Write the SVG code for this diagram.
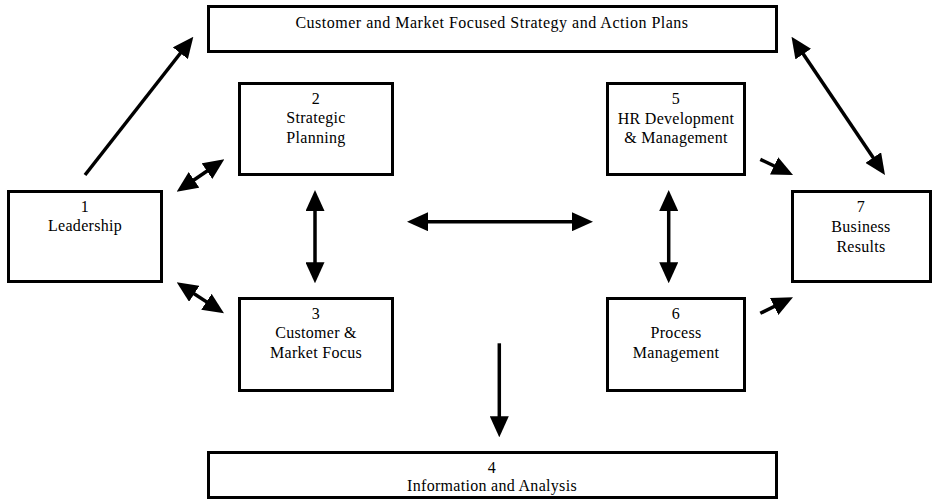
<svg xmlns="http://www.w3.org/2000/svg" width="934" height="501" viewBox="0 0 934 501">
  <style>
    .box { fill: #ffffff; stroke: #000000; stroke-width: 3; }
    .lbl { font-family: "Liberation Serif", "Times New Roman", serif; font-size: 16px; fill: #000000; text-anchor: middle; letter-spacing: 0.3px; }
    .wide { letter-spacing: 0.5px; }
    .link { fill: none; stroke: #000000; stroke-width: 3.5; }
  </style>
  <defs>
    <!-- filled triangular arrowhead; tip sits 8px past the line end -->
    <marker id="head" markerUnits="userSpaceOnUse" markerWidth="21" markerHeight="19" viewBox="0 0 21 19" refX="13" refY="9.5" orient="auto-start-reverse">
      <path d="M0,0 L21,9.5 L0,19 Z" fill="#000000"/>
    </marker>
  </defs>

  <rect width="934" height="501" fill="#ffffff"/>

  <!-- top banner -->
  <g id="strategy-plans">
    <rect class="box" x="208.5" y="6.5" width="568" height="45"/>
    <text class="lbl wide" x="492" y="28">Customer and Market Focused Strategy and Action Plans</text>
  </g>

  <g id="leadership">
    <rect class="box" x="8.5" y="191.5" width="153" height="90"/>
    <text class="lbl" x="85" y="212">1</text>
    <text class="lbl" x="85" y="231">Leadership</text>
  </g>

  <g id="strategic-planning">
    <rect class="box" x="239.5" y="83.5" width="153" height="91"/>
    <text class="lbl" x="316" y="104">2</text>
    <text class="lbl" x="316" y="123">Strategic</text>
    <text class="lbl" x="316" y="143">Planning</text>
  </g>

  <g id="customer-market-focus">
    <rect class="box" x="239.5" y="298.5" width="153" height="92"/>
    <text class="lbl" x="316" y="319">3</text>
    <text class="lbl" x="316" y="338">Customer &amp;</text>
    <text class="lbl" x="316" y="358">Market Focus</text>
  </g>

  <g id="information-analysis">
    <rect class="box" x="208.5" y="452.5" width="568" height="45"/>
    <text class="lbl" x="492" y="473">4</text>
    <text class="lbl" x="492" y="491">Information and Analysis</text>
  </g>

  <g id="hr-development">
    <rect class="box" x="607.5" y="83.5" width="137" height="91"/>
    <text class="lbl" x="676" y="104">5</text>
    <text class="lbl" x="676" y="124">HR Development</text>
    <text class="lbl" x="676" y="143">&amp; Management</text>
  </g>

  <g id="process-management">
    <rect class="box" x="607.5" y="298.5" width="137" height="92"/>
    <text class="lbl" x="676" y="319">6</text>
    <text class="lbl" x="676" y="338">Process</text>
    <text class="lbl" x="676" y="358">Management</text>
  </g>

  <g id="business-results">
    <rect class="box" x="792.5" y="191.5" width="138" height="90"/>
    <text class="lbl" x="861" y="212">7</text>
    <text class="lbl" x="861" y="232">Business</text>
    <text class="lbl" x="861" y="252">Results</text>
  </g>

  <!-- connectors -->
  <g id="connectors">
    <line class="link" x1="85" y1="175" x2="188.4" y2="43" marker-end="url(#head)"/>
    <line class="link" x1="183.3" y1="187.2" x2="217.7" y2="163.8" marker-start="url(#head)" marker-end="url(#head)"/>
    <line class="link" x1="183.4" y1="286.7" x2="217.3" y2="308.9" marker-start="url(#head)" marker-end="url(#head)"/>
    <line class="link" x1="315" y1="198" x2="315" y2="275.3" marker-start="url(#head)" marker-end="url(#head)"/>
    <line class="link" x1="415" y1="221.7" x2="585" y2="221.7" marker-start="url(#head)" marker-end="url(#head)"/>
    <line class="link" x1="668.7" y1="198" x2="668.7" y2="275.3" marker-start="url(#head)" marker-end="url(#head)"/>
    <line class="link" x1="760.3" y1="159.3" x2="785.8" y2="171.5" marker-end="url(#head)"/>
    <line class="link" x1="760.3" y1="313.3" x2="785.8" y2="300.8" marker-end="url(#head)"/>
    <line class="link" x1="796" y1="43.3" x2="880.5" y2="168.4" marker-start="url(#head)" marker-end="url(#head)"/>
    <line class="link" x1="499.3" y1="343.3" x2="499.3" y2="429.3" marker-end="url(#head)"/>
  </g>
</svg>
